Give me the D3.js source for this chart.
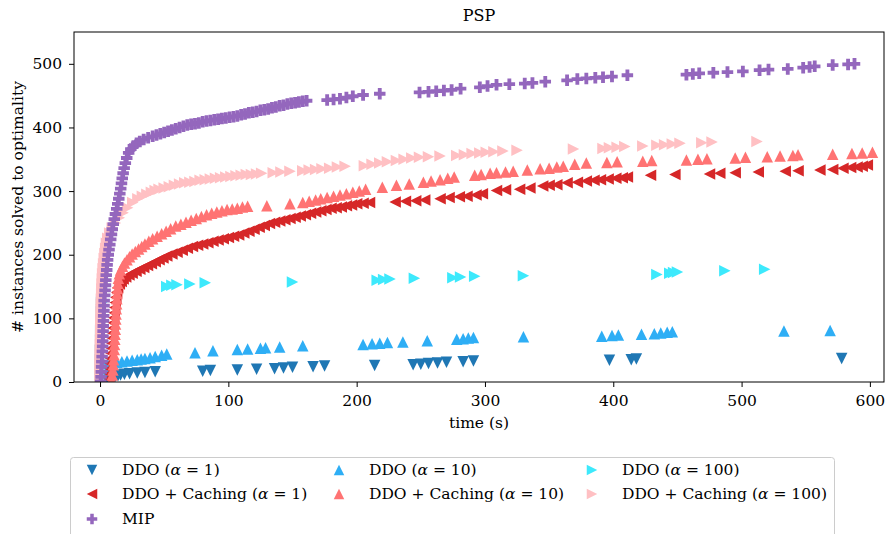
<!DOCTYPE html>
<html><head><meta charset="utf-8">
<script src="https://cdn.jsdelivr.net/npm/d3@7"></script>
<style>
body{margin:0;background:#fff;}
text{font-family:"DejaVu Serif",serif;fill:#000;}
</style></head>
<body><svg id="c" width="885" height="534"></svg>
<script>
// ---- data: [time (s), # instances solved] ----
const ddo1 = [[2,1],[4,3],[6,5],[8,7],[10,8],[12,9],[14,10],[16,11],[19,12],[23,13],[29,14],[35,15],[43,16],[80,17],[86,18],[107,19],[122,20],[136,21],[143,22],[150,23],[166,24],[175,25],[214,26],[244,27],[250,28],[256,29],[263,30],[270,31],[283,32],[291,33],[397,34],[414,35],[418,36],[578,37]];
const ddo10 = [[0,2],[0,8],[0.5,14],[1,20],[3,24],[6,27],[8,28],[10,29],[13,31],[17,32],[21,33],[25,34],[29,35],[32,36],[35,37],[39,38],[43,40],[48,42],[52,44],[74,46],[88,49],[107,51],[115,52],[125,53],[129,54],[140,55],[158,57],[205,59],[212,60],[218,61],[224,62],[236,63],[255,65],[278,67],[283,68],[287,69],[291,70],[330,71],[391,72],[399,73],[404,74],[422,75],[432,76],[437,77],[442,78],[446,79],[533,80],[569,81]];
const ddo100 = [[0,5],[0,20],[0,35],[0.3,50],[0.5,65],[0.5,80],[1,95],[1,110],[1.2,125],[1.5,135],[2,145],[52,150],[56,152],[60,153],[70,154],[82,156],[150,157],[216,160],[221,161],[226,162],[245,163],[275,164],[281,165],[292,166],[330,167],[434,169],[444,171],[447,172],[450,173],[487,175],[518,177]];
const cache1 = [[7,5],[7.3,13],[7.6,21],[7.9,29],[8.2,37],[8.5,45],[8.8,53],[9.1,61],[9.4,69],[9.7,77],[10,85],[10.3,93],[10.6,101],[11,109],[11.4,117],[11.8,125],[12.3,133],[12.9,141],[13.7,148],[15,154],[16.5,158],[18,162],[20,165],[22.5,168],[25,171],[28,174],[31,177],[34,180],[37,183],[40,186],[43,189],[46,192],[49,195],[52,198],[56,201],[60,204],[64,207],[68,210],[72,213],[76,215],[80,217],[84,219],[88,221],[92,223],[96,225],[100,227],[104,229],[108,231],[112,234],[116,237],[120,240],[124,243],[128,246],[132,249],[136,251],[140,253],[144,255],[148,257],[152,259],[156,261],[160,263],[164,265],[168,267],[172,269],[176,271],[180,273],[184,274],[188,275],[192,277],[196,278],[200,280],[205,281],[210,282],[230,283],[238,284],[246,285],[253,286],[265,288],[272,290],[280,291],[286,292],[293,294],[298,296],[309,301],[316,302],[327,303],[335,305],[345,308],[350,309],[356,310],[364,313],[372,314],[379,316],[385,317],[390,318],[396,319],[402,320],[407,321],[411,322],[429,325],[448,326],[475,327],[483,328],[495,329],[513,330],[534,331],[544,332],[561,333],[571,334],[579,336],[585,337],[590,338],[594,339],[598,341]];
const cache10 = [[9,3],[9.5,11],[10,19],[10.3,27],[10.6,35],[10.9,43],[11.1,51],[11.3,59],[11.5,67],[11.7,75],[11.9,83],[12.1,91],[12.3,99],[12.5,107],[12.7,115],[12.9,123],[13.1,131],[13.3,139],[13.6,147],[13.9,155],[14.3,163],[15,170],[16,176],[17.5,182],[19,187],[21,192],[23,197],[25,201],[27.5,205],[30,209],[32.5,213],[35,217],[38,221],[41,225],[44.5,229],[48,233],[51.5,237],[55,241],[59,245],[63,248],[67,251],[71,254],[75,257],[79,260],[83,263],[87,265],[91,267],[95,269],[99,271],[103,272],[107,273],[111,275],[115,276],[130,277],[148,280],[158,282],[163,284],[168,286],[172,288],[177,290],[182,292],[187,294],[192,296],[197,298],[202,300],[207,303],[220,306],[231,309],[241,311],[252,314],[258,316],[265,318],[271,320],[276,322],[292,325],[297,326],[304,328],[309,329],[316,330],[322,331],[333,333],[343,335],[350,336],[356,338],[361,339],[370,342],[379,344],[395,345],[403,346],[423,347],[430,348],[457,349],[466,350],[473,351],[495,352],[503,353],[520,354],[530,355],[540,356],[544,357],[571,358],[586,359],[594,360],[602,361]];
const cache100 = [[0,2],[0,10],[0,18],[0,26],[0,34],[0.1,42],[0.2,50],[0.3,58],[0.4,66],[0.5,74],[0.5,82],[0.6,90],[0.7,98],[0.8,106],[0.9,114],[1,122],[1.1,130],[1.3,138],[1.4,146],[1.6,154],[1.8,162],[2,170],[2.4,178],[2.8,186],[3.3,194],[3.8,202],[4.4,210],[5,218],[6,226],[7.5,234],[9.5,242],[12,250],[15,258],[18,266],[21.5,274],[25.5,282],[29.5,288],[33,292],[36.5,295],[40,298],[43,301],[46,303],[50,305],[54,307],[58,309],[62,311],[66,313],[70,314],[74,315],[78,317],[82,318],[86,319],[90,320],[94,321],[98,322],[102,323],[106,324],[110,325],[114,326],[118,326],[122,327],[126,328],[135,329],[141,330],[148,331],[158,332],[163,333],[168,334],[173,335],[179,336],[185,338],[191,339],[206,340],[212,342],[218,344],[224,346],[231,348],[237,350],[243,352],[249,353],[256,354],[265,355],[278,356],[284,357],[290,359],[296,360],[301,361],[307,362],[314,363],[325,364],[369,366],[392,367],[397,368],[403,369],[409,370],[423,371],[434,372],[440,373],[446,374],[452,375],[469,376],[477,377],[512,378]];
const mip = [[0.5,1],[0.8,8],[1,16],[1.2,24],[1.4,32],[1.6,40],[1.8,48],[2,56],[2.1,64],[2.3,72],[2.4,80],[2.5,88],[2.7,96],[2.8,104],[3,112],[3.1,120],[3.2,128],[3.6,136],[3.9,144],[4.2,152],[4.5,160],[4.8,168],[5.2,176],[5.5,184],[5.9,192],[6.4,200],[7,208],[7.6,216],[8.3,224],[8.9,232],[9.5,240],[10.3,248],[11.1,256],[12,264],[13,272],[13.8,280],[14.6,288],[15.4,296],[16.1,304],[16.7,312],[17.3,320],[18,328],[18.8,336],[19.7,344],[20.8,352],[22.3,360],[24,366],[26,371],[28.5,375],[31,378],[34,381],[37.5,384],[41,386],[44,388],[47,390],[50,392],[53,394],[56,396],[59,398],[62,400],[65,402],[68,404],[71,405],[74,406],[77,407],[80,409],[83,410],[86,411],[89,412],[92,413],[95,414],[98,415],[101,416],[104,417],[107,418],[110,420],[113,421],[116,423],[119,424],[122,425],[125,427],[128,428],[131,429],[134,431],[137,432],[140,434],[143,435],[146,437],[149,438],[152,439],[155,440],[158,441],[161,442],[177,443],[182,444],[187,445],[192,447],[197,449],[205,451],[218,453],[249,455],[256,456],[262,457],[268,458],[274,459],[281,461],[296,463],[302,465],[309,467],[319,468],[331,469],[337,470],[347,472],[364,474],[372,476],[379,477],[386,478],[392,479],[399,480],[411,482],[457,483],[462,484],[467,485],[478,486],[489,487],[501,488],[514,490],[521,491],[536,492],[548,494],[553,495],[557,496],[571,498],[583,499],[588,500]];

const xTicks = [0,100,200,300,400,500,600];
const yTicks = [0,100,200,300,400,500];
const seriesNames = ["DDO","DDO","DDO","DDO + Caching","DDO + Caching","DDO + Caching","MIP"];
const alphas = ["1","10","100","1","10","100",null];
const title = "PSP", xLabel = "time (s)", yLabel = "# instances solved to optimality";

// ---- styles ----
const colors = ["#1f77b4","#2eaef5","#3de9fc","#d62728","#ff7373","#ffc0c3","#9467bd"];
const shapes = ["down","up","right","left","up","right","plus"];
const dataAll = [ddo1, ddo10, ddo100, cache1, cache10, cache100, mip];

const svg = d3.select("#c");
const L=74, R=884, T=32, B=382;
const x = d3.scaleLinear().domain([-20.3, 611]).range([L, R]);
const y = d3.scaleLinear().domain([0, 550]).range([B, T]);
const S = 11.5, SL = 10.5;

function sym(kind, s){
  const h = s/2;
  switch(kind){
    case "down": return `M${-h},${-h}L${h},${-h}L0,${h}Z`;
    case "up": return `M0,${-h}L${h},${h}L${-h},${h}Z`;
    case "left": return `M${-h},0L${h},${-h}L${h},${h}Z`;
    case "right": return `M${h},0L${-h},${-h}L${-h},${h}Z`;
    case "plus": { const a=s/6, b=s/2;
      return `M${-a},${-b}L${a},${-b}L${a},${-a}L${b},${-a}L${b},${a}L${a},${a}L${a},${b}L${-a},${b}L${-a},${a}L${-b},${a}L${-b},${-a}L${-a},${-a}Z`; }
  }
}

svg.append("defs").append("clipPath").attr("id","clip")
  .append("rect").attr("x",L).attr("y",T).attr("width",R-L).attr("height",B-T);

const plot = svg.append("g").attr("clip-path","url(#clip)");
dataAll.forEach((d,i)=>{
  plot.append("g").selectAll("path").data(d).join("path")
    .attr("d", sym(shapes[i], S))
    .attr("transform", p=>`translate(${x(p[0])},${y(p[1])})`)
    .attr("fill", colors[i]);
});

// axes
const fs = 15.5;
const gx = svg.append("g").attr("transform",`translate(0,${B})`)
  .call(d3.axisBottom(x).tickValues(xTicks).tickSize(5).tickPadding(8).tickFormat(d3.format("d")));
const gy = svg.append("g").attr("transform",`translate(${L},0)`)
  .call(d3.axisLeft(y).tickValues(yTicks).tickSize(5).tickPadding(7).tickFormat(d3.format("d")));
[gx,gy].forEach(g=>{
  g.select(".domain").remove();
  g.selectAll("line").attr("stroke","#000").attr("stroke-width",1);
  g.selectAll("text").attr("font-family","DejaVu Serif").attr("font-size",fs).attr("fill","#000");
});
svg.append("rect").attr("x",L).attr("y",T).attr("width",R-L).attr("height",B-T)
  .attr("fill","none").attr("stroke","#000").attr("stroke-width",1);

svg.append("text").attr("x",(L+R)/2).attr("y",21).attr("text-anchor","middle").attr("font-size",16).text(title);
svg.append("text").attr("x",(L+R)/2).attr("y",428).attr("text-anchor","middle").attr("font-size",fs).text(xLabel);
svg.append("text").attr("transform",`translate(23,${(T+B)/2}) rotate(-90)`).attr("text-anchor","middle").attr("font-size",fs).text(yLabel);

// legend
const lg = svg.append("g");
lg.append("rect").attr("x",70.5).attr("y",457.5).attr("width",764).attr("height",100).attr("rx",3)
  .attr("fill","#fff").attr("stroke","#cccccc").attr("stroke-width",1);
const colX = [92,339,592], rowY = [470,494,519];
dataAll.forEach((d,i)=>{
  const cx = colX[i%3], cy = rowY[Math.floor(i/3)];
  lg.append("path").attr("d",sym(shapes[i],SL)).attr("transform",`translate(${cx},${cy})`).attr("fill",colors[i]);
  const t = lg.append("text").attr("x",cx+30).attr("y",cy+5).attr("font-size",fs);
  if(alphas[i]===null){ t.text(seriesNames[i]); }
  else {
    t.append("tspan").text(seriesNames[i]+" (");
    t.append("tspan").attr("font-style","italic").text("α");
    t.append("tspan").text(" = "+alphas[i]+")");
  }
});
</script></body></html>
